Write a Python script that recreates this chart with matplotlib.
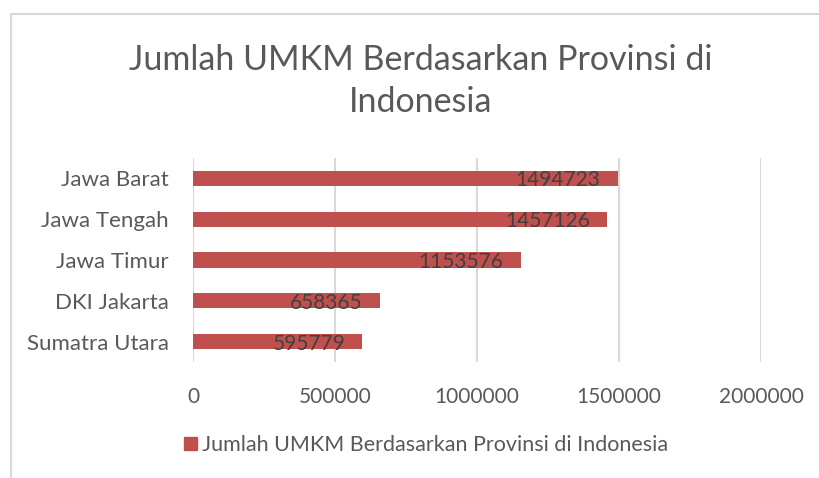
import matplotlib
matplotlib.use("Agg")
import matplotlib.pyplot as plt
from matplotlib.lines import Line2D
from matplotlib.patches import Patch

categories = ["Sumatra Utara", "DKI Jakarta", "Jawa Timur", "Jawa Tengah", "Jawa Barat"]
values = [595779, 658365, 1153576, 1457126, 1494723]
xticks = [0, 500000, 1000000, 1500000, 2000000]
title = "Jumlah UMKM Berdasarkan Provinsi di\nIndonesia"
series_name = "Jumlah UMKM Berdasarkan Provinsi di Indonesia"

FONT = "Lato"
plt.rcParams["font.family"] = [FONT, "DejaVu Sans"]
BAR = "#C0504D"
TXT = "#595959"

W, H = 819, 478
fig = plt.figure(figsize=(W / 100, H / 100), dpi=100)
fig.patch.set_facecolor("white")

# outer chart border (partly cut off)
fig.add_artist(Line2D([11 / W, 11 / W], [0, 1 - 14 / H], color="#D9D9D9", lw=1.5, transform=fig.transFigure))
fig.add_artist(Line2D([11 / W, 1], [1 - 14 / H, 1 - 14 / H], color="#D9D9D9", lw=1.5, transform=fig.transFigure))

left, right, top, bottom = 193, 761, 158, 362
ax = fig.add_axes([left / W, 1 - bottom / H, (right - left) / W, (bottom - top) / H])
y = range(len(categories))
ax.barh(list(y), values, height=0.37, color=BAR, zorder=3)
ax.set_xlim(0, 2000000)
ax.set_ylim(-0.5, len(categories) - 0.5)
ax.set_xticks(xticks)
ax.set_xticklabels([str(v) for v in xticks])
ax.set_yticks(list(y))
ax.set_yticklabels(categories)
ax.tick_params(axis="x", length=0, pad=18, labelsize=15, labelcolor=TXT)
ax.tick_params(axis="y", length=0, pad=17.5, labelsize=16, labelcolor=TXT)
for s in ax.spines.values():
    s.set_visible(False)
ax.grid(axis="x", color="#D9D9D9", lw=1.5, zorder=0)
ax.axvline(0, color="#D9D9D9", lw=1.5, zorder=1)

for i, v in enumerate(values):
    ax.text(v - 60000, i - 0.05, str(v), ha="right", va="center", fontsize=15, color="#404040", zorder=4)

fig.text(421 / W, 1 - 81 / H, title, ha="center", va="center", fontsize=24.5, color=TXT, linespacing=1.4)

fig.legend(handles=[Patch(color=BAR)], labels=[series_name], loc="center", bbox_to_anchor=(426 / W, 1 - 445 / H),
           frameon=False, fontsize=15.5, handlelength=0.6, handleheight=0.6, handletextpad=0.25, labelcolor=TXT)

fig.savefig("out.png", dpi=100, facecolor="white")
